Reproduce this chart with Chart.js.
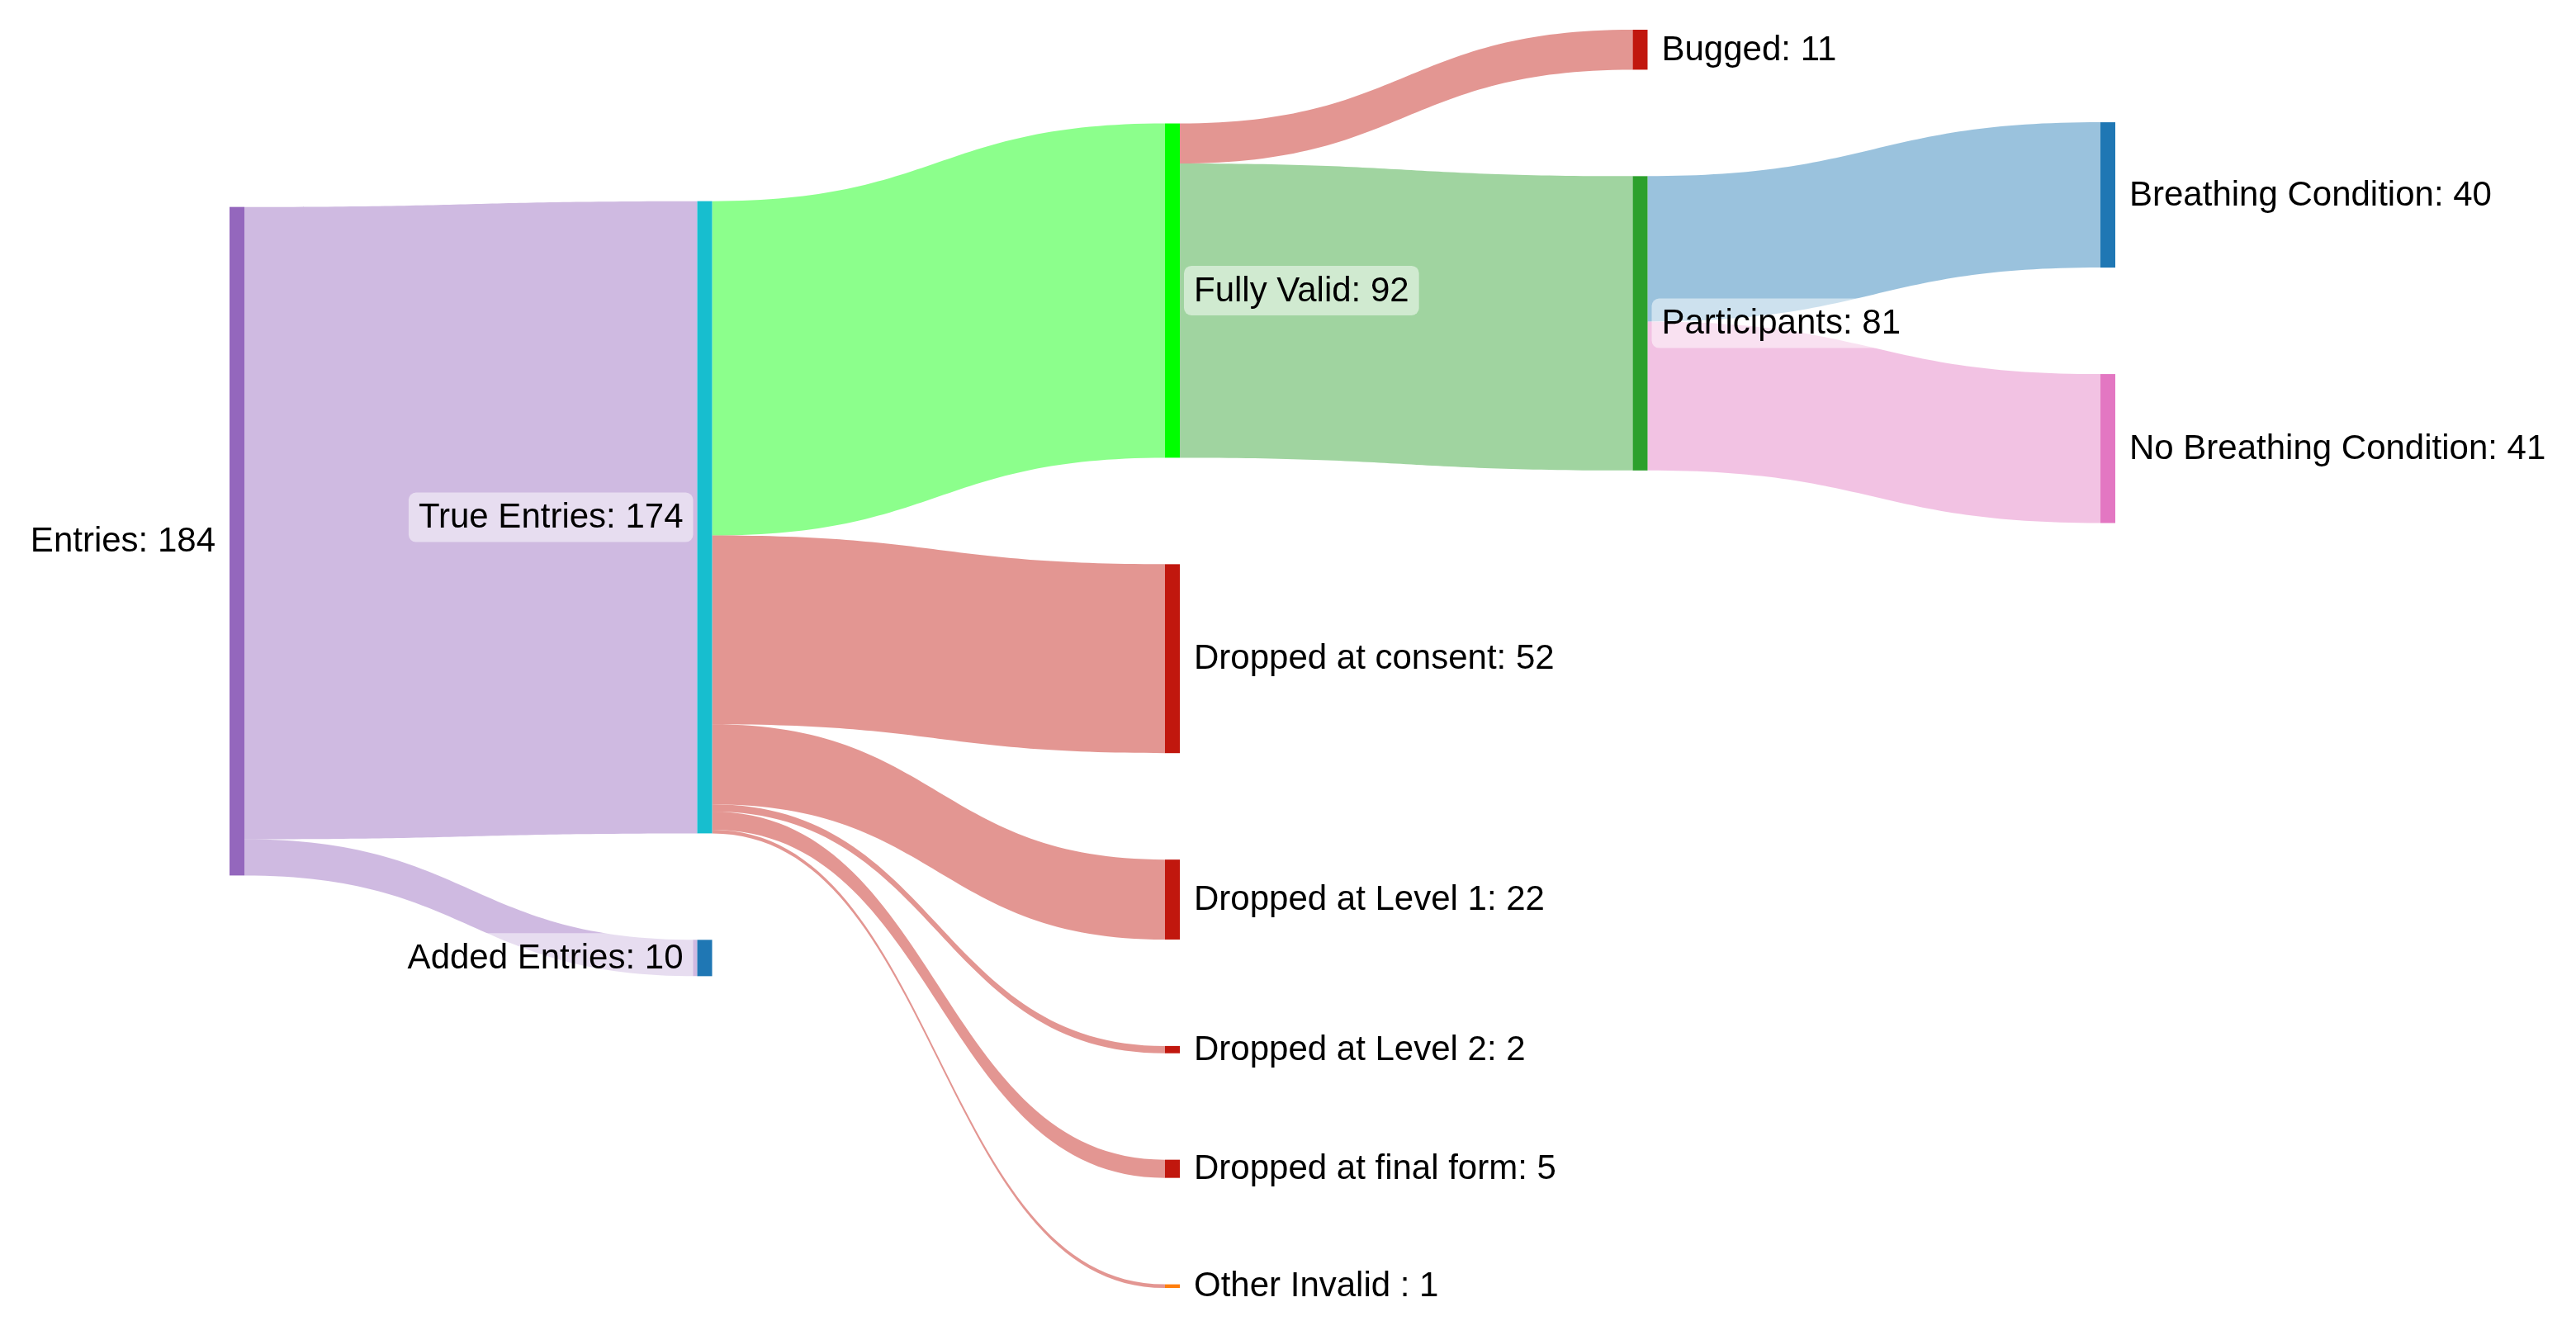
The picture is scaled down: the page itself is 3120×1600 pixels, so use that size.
<!DOCTYPE html>
<html>
<head>
<meta charset="utf-8">
<script src="https://cdn.jsdelivr.net/npm/chart.js@4.4.1/dist/chart.umd.min.js"></script>
<style>
html,body{margin:0;padding:0;background:#ffffff;}
#wrap{width:3120px;height:1600px;}
</style>
</head>
<body>
<div id="wrap"><canvas id="c" width="3120" height="1600"></canvas></div>
<script>
// ---------------- data ----------------
const nodeLabels = [
  'Entries', 'True Entries', 'Added Entries', 'Fully Valid',
  'Dropped at consent', 'Dropped at Level 1', 'Dropped at Level 2',
  'Dropped at final form', 'Other Invalid ', 'Bugged', 'Participants',
  'Breathing Condition', 'No Breathing Condition'
];
const linkSource = [0, 0, 1, 1, 1, 1, 1, 1, 3, 3, 10, 10];
const linkTarget = [1, 2, 3, 4, 5, 6, 7, 8, 9, 10, 11, 12];
const linkValue  = [174, 10, 92, 52, 22, 2, 5, 1, 11, 81, 40, 41];

// ---------------- styles ----------------
const nodeColors = [
  '#9467bd', '#17becf', '#1f77b4', '#00ff00',
  '#c1170e', '#c1170e', '#c1170e', '#c1170e', '#ff7f0e',
  '#c1170e', '#2ca02c', '#1f77b4', '#e377c2'
];
const linkColors = [
  'rgba(148,103,189,0.45)', 'rgba(148,103,189,0.45)',
  'rgba(0,255,0,0.45)',
  'rgba(193,23,14,0.45)', 'rgba(193,23,14,0.45)', 'rgba(193,23,14,0.45)',
  'rgba(193,23,14,0.45)', 'rgba(193,23,14,0.45)',
  'rgba(193,23,14,0.45)', 'rgba(44,160,44,0.45)',
  'rgba(31,119,180,0.45)', 'rgba(227,119,194,0.45)'
];
const STYLE = {
  nodeWidth: 18,
  nodePad: 29.3,        // gap between nodes, in flow units
  labelLeftColumns: 2,  // first columns carry their labels on the left
  fontSize: 42,
  fontFamily: 'Arial, "Liberation Sans", sans-serif',
  labelGap: 17,
  boxPadX: 12,
  boxHeight: 60,
  boxRadius: 9
};

// ---------------- sankey layout (flow units) ----------------
function buildLayout() {
  const nodes = nodeLabels.map((l, i) => ({ i, label: l, inL: [], outL: [], col: 0, top: null }));
  const links = linkValue.map((v, k) => ({ k, s: linkSource[k], t: linkTarget[k], v }));
  links.forEach(l => { nodes[l.s].outL.push(l); nodes[l.t].inL.push(l); });
  nodes.forEach(nd => {
    const a = nd.inL.reduce((s, l) => s + l.v, 0), b = nd.outL.reduce((s, l) => s + l.v, 0);
    nd.value = Math.max(a, b);
  });
  // columns by longest path
  let changed = true;
  while (changed) {
    changed = false;
    links.forEach(l => { if (nodes[l.t].col < nodes[l.s].col + 1) { nodes[l.t].col = nodes[l.s].col + 1; changed = true; } });
  }
  const nCols = Math.max(...nodes.map(d => d.col)) + 1;
  const cols = [];
  for (let c = 0; c < nCols; c++) cols.push(nodes.filter(d => d.col === c));
  cols.forEach(col => col.forEach((d, j) => d.ord = j));
  const P = STYLE.nodePad;
  const colH = cols.map(col => col.reduce((s, d) => s + d.value, 0) + (col.length - 1) * P);
  let ref = 0; colH.forEach((h, c) => { if (h > colH[ref]) ref = c; });
  let y = 0;
  cols[ref].forEach(d => { d.top = y; y += d.value + P; });

  const key = d => (d.top !== null ? d.top : d.col * 1e6 + d.ord);
  const offIn = (node, link) => {
    const ls = node.inL.slice().sort((a, b) => key(nodes[a.s]) - key(nodes[b.s]));
    let o = 0; for (const l of ls) { if (l === link) return o; o += l.v; } return o;
  };
  const offOut = (node, link) => {
    const ls = node.outL.slice().sort((a, b) => (nodes[a.t].col - nodes[b.t].col) * 1e9 + key(nodes[a.t]) - key(nodes[b.t]));
    let o = 0; for (const l of ls) { if (l === link) return o; o += l.v; } return o;
  };
  // weighted placement of one column: links as flat as possible, nodes kept apart by the pad
  function placeColumn(col, idealFn) {
    let off = 0;
    const items = col.map(d => {
      const it = { d, off, ideal: idealFn(d) };
      off += d.value + P;
      return it;
    });
    const blocks = [];
    items.forEach(it => {
      let z, w;
      if (it.ideal) { z = it.ideal.top - it.off; w = it.ideal.w; }
      else { z = blocks.length ? blocks[blocks.length - 1].sum / blocks[blocks.length - 1].w : 0; w = 1e-9; }
      blocks.push({ sum: z * w, w, m: [it] });
      while (blocks.length > 1) {
        const a = blocks[blocks.length - 2], b = blocks[blocks.length - 1];
        if (a.sum / a.w > b.sum / b.w + 1e-12) {
          a.sum += b.sum; a.w += b.w; a.m = a.m.concat(b.m); blocks.pop();
        } else break;
      }
    });
    blocks.forEach(b => { const z = b.sum / b.w; b.m.forEach(it => { it.d.top = z + it.off; }); });
  }
  for (let c = ref - 1; c >= 0; c--) {
    placeColumn(cols[c], d => {
      let s = 0, w = 0;
      d.outL.forEach(l => {
        const t = nodes[l.t]; if (t.top === null) return;
        s += (t.top + offIn(t, l) - offOut(d, l)) * l.v; w += l.v;
      });
      return w > 0 ? { top: s / w, w } : null;
    });
  }
  for (let c = ref + 1; c < nCols; c++) {
    placeColumn(cols[c], d => {
      let s = 0, w = 0;
      d.inL.forEach(l => {
        const so = nodes[l.s]; if (so.top === null) return;
        s += (so.top + offOut(so, l) - offIn(d, l)) * l.v; w += l.v;
      });
      return w > 0 ? { top: s / w, w } : null;
    });
  }
  links.forEach(l => {
    l.y0 = nodes[l.s].top + offOut(nodes[l.s], l);
    l.y1 = nodes[l.t].top + offIn(nodes[l.t], l);
  });
  const yMin = Math.min(...nodes.map(d => d.top));
  const yMax = Math.max(...nodes.map(d => d.top + d.value));
  return { nodes, links, nCols, yMin, yMax };
}
const LAYOUT = buildLayout();

// ---------------- drawing plugin ----------------
const sankeyPlugin = {
  id: 'sankeyDraw',
  afterDatasetsDraw(chart) {
    const ctx = chart.ctx, xs = chart.scales.x, ys = chart.scales.y;
    const W = STYLE.nodeWidth;
    const nx0 = d => xs.getPixelForValue(d.col) - W / 2;
    const nx1 = d => xs.getPixelForValue(d.col) + W / 2;
    ctx.save();
    // links
    LAYOUT.links.forEach(l => {
      const s = LAYOUT.nodes[l.s], t = LAYOUT.nodes[l.t];
      const x0 = nx1(s), x1 = nx0(t), xm = (x0 + x1) / 2;
      const a0 = ys.getPixelForValue(l.y0), a1 = ys.getPixelForValue(l.y0 + l.v);
      const b0 = ys.getPixelForValue(l.y1), b1 = ys.getPixelForValue(l.y1 + l.v);
      ctx.beginPath();
      ctx.moveTo(x0, a0);
      ctx.bezierCurveTo(xm, a0, xm, b0, x1, b0);
      ctx.lineTo(x1, b1);
      ctx.bezierCurveTo(xm, b1, xm, a1, x0, a1);
      ctx.closePath();
      ctx.fillStyle = linkColors[l.k];
      ctx.fill();
    });
    // nodes
    LAYOUT.nodes.forEach(d => {
      const y0 = ys.getPixelForValue(d.top), y1 = ys.getPixelForValue(d.top + d.value);
      ctx.fillStyle = nodeColors[d.i];
      ctx.fillRect(nx0(d), y0, W, Math.max(1, y1 - y0));
    });
    // labels
    ctx.font = STYLE.fontSize + 'px ' + STYLE.fontFamily;
    ctx.textBaseline = 'middle';
    LAYOUT.nodes.forEach(d => {
      const text = d.label + ': ' + d.value;
      const tw = ctx.measureText(text).width;
      const cy = ys.getPixelForValue(d.top + d.value / 2);
      const tx = d.col < STYLE.labelLeftColumns ? nx0(d) - STYLE.labelGap - tw : nx1(d) + STYLE.labelGap;
      const bx = tx - STYLE.boxPadX;
      const bw = tw + 2 * STYLE.boxPadX, bh = STYLE.boxHeight;
      ctx.beginPath();
      if (ctx.roundRect) ctx.roundRect(bx, cy - bh / 2, bw, bh, STYLE.boxRadius);
      else ctx.rect(bx, cy - bh / 2, bw, bh);
      ctx.fillStyle = 'rgba(255,255,255,0.5)';
      ctx.fill();
      ctx.fillStyle = '#000000';
      ctx.textAlign = 'left';
      ctx.fillText(text, tx, cy + 1);
    });
    ctx.restore();
  }
};

new Chart(document.getElementById('c'), {
  type: 'scatter',
  data: {
    datasets: [{
      label: 'nodes',
      data: LAYOUT.nodes.map(d => ({ x: d.col, y: d.top + d.value / 2 })),
      pointRadius: 0,
      pointHoverRadius: 0
    }]
  },
  options: {
    responsive: false,
    devicePixelRatio: 1,
    animation: false,
    events: [],
    layout: { padding: { left: 287, right: 567, top: 36, bottom: 40 } },
    plugins: { legend: { display: false }, tooltip: { enabled: false } },
    scales: {
      x: { type: 'linear', min: 0, max: LAYOUT.nCols - 1, display: false },
      y: { type: 'linear', min: LAYOUT.yMin, max: LAYOUT.yMax, reverse: true, display: false }
    }
  },
  plugins: [sankeyPlugin]
});
</script>
</body>
</html>
